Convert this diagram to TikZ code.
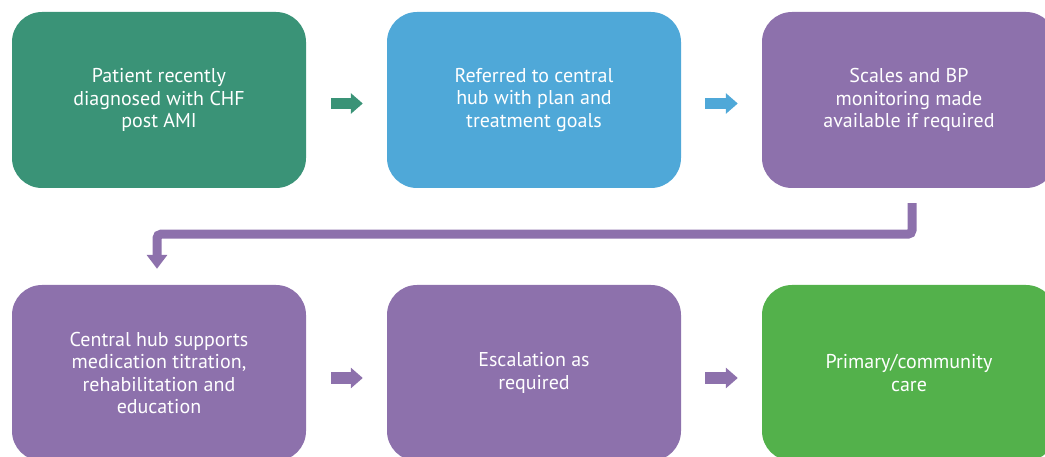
\documentclass[tikz,border=0pt]{standalone}
\usepackage{fontspec}
\setmainfont{PT Sans}
\usetikzlibrary{arrows.meta}
\definecolor{cgreen}{HTML}{3A9377}
\definecolor{cblue}{HTML}{4FA8D8}
\definecolor{cpurple}{HTML}{8D71AC}
\definecolor{clime}{HTML}{53B14B}
\tikzset{
  stepbox/.style={rounded corners=30pt, minimum width=294pt, minimum height=176pt,
    align=center, text=white, inner sep=0pt,
    font=\fontsize{20pt}{22.5pt}\selectfont},
  blockarrow/.style={line width=11.5pt, -{Triangle[width=20pt,length=12pt]}},
  elbow/.style={draw=cpurple, line width=9pt, rounded corners=4pt,
    -{Triangle[width=20pt,length=14pt]}}
}
\begin{document}
\begin{tikzpicture}[x=1pt,y=-1pt]
\useasboundingbox (0,0) rectangle (1045,457);
\clip (0,0) rectangle (1045,457);
\node[stepbox, fill=cgreen] (a) at (159,100) {Patient recently\\diagnosed with CHF\\post AMI};
\node[stepbox, fill=cblue] (b) at (534,100) {Referred to central\\hub with plan and\\treatment goals};
\node[stepbox, fill=cpurple] (c) at (909,100) {Scales and BP\\monitoring made\\available if required};
\node[stepbox, fill=cpurple] (d) at (159,373) {Central hub supports\\medication titration,\\rehabilitation and\\education};
\node[stepbox, fill=cpurple] (e) at (534,373) {Escalation as\\required};
\node[stepbox, fill=clime] (f) at (909,373) {Primary/community\\care};
\draw[blockarrow, draw=cgreen, shorten <=25pt, shorten >=24pt] ([yshift=-3.5pt]a.east) -- ([yshift=-3.5pt]b.west);
\draw[blockarrow, draw=cblue, shorten <=24pt, shorten >=24pt] ([yshift=-3.5pt]b.east) -- ([yshift=-3.5pt]c.west);
\draw[blockarrow, draw=cpurple, shorten <=25pt, shorten >=24pt] ([yshift=-5pt]d.east) -- ([yshift=-5pt]e.west);
\draw[blockarrow, draw=cpurple, shorten <=24pt, shorten >=24pt] ([yshift=-5pt]e.east) -- ([yshift=-5pt]f.west);
\draw[elbow] ([xshift=3pt,yshift=-15pt]c.south) -- ++(0,31) -| ([xshift=-2pt,yshift=16pt]d.north);
\end{tikzpicture}
\end{document}
